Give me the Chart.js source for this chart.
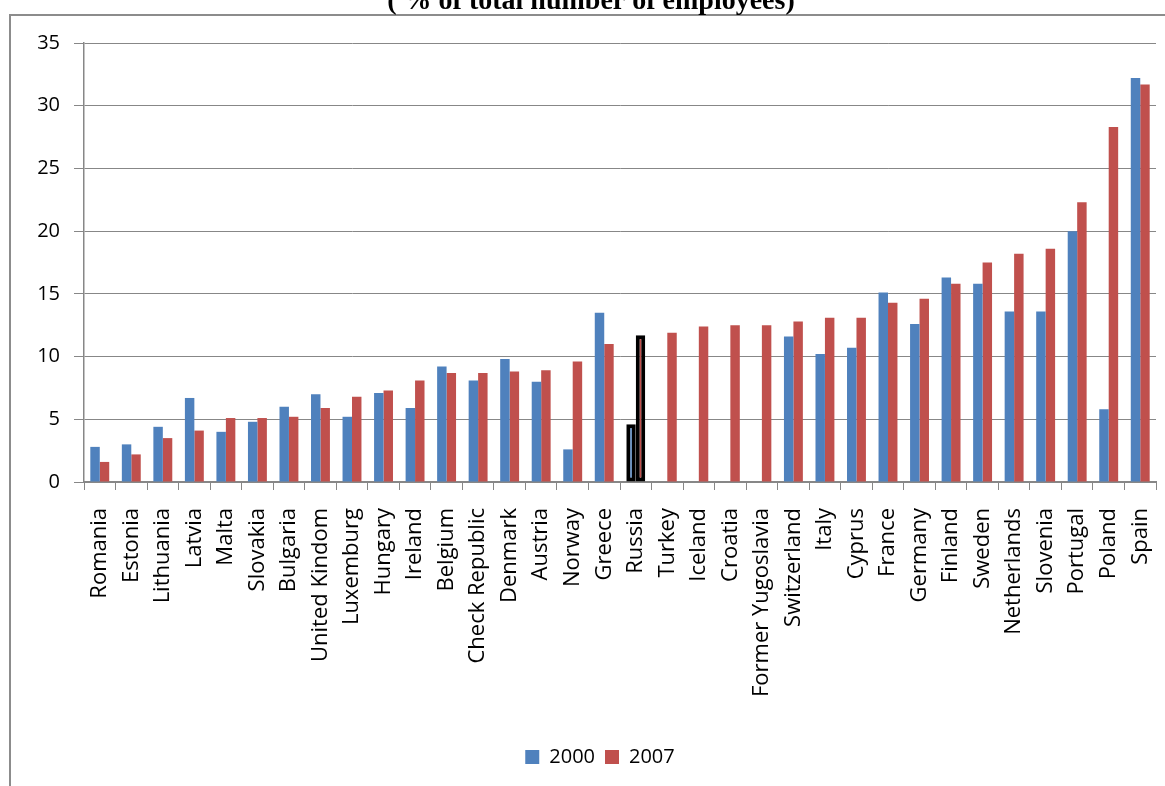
<!DOCTYPE html>
<html>
<head>
<meta charset="utf-8">
<script src="https://cdn.jsdelivr.net/npm/chart.js@4/dist/chart.umd.min.js"></script>
<style>
  html, body { margin: 0; padding: 0; background: #fff; }
  #wrap { width: 1165px; height: 786px; position: relative; }
</style>
</head>
<body>
<div id="wrap"><canvas id="c" width="1165" height="786"></canvas></div>
<script>
// ── Data ────────────────────────────────────────────────────────────────
const countries = [
  'Romania', 'Estonia', 'Lithuania', 'Latvia', 'Malta', 'Slovakia', 'Bulgaria',
  'United Kindom', 'Luxemburg', 'Hungary', 'Ireland', 'Belgium', 'Check Republic',
  'Denmark', 'Austria', 'Norway', 'Greece', 'Russia', 'Turkey', 'Iceland', 'Croatia',
  'Former Yugoslavia', 'Switzerland', 'Italy', 'Cyprus', 'France', 'Germany',
  'Finland', 'Sweden', 'Netherlands', 'Slovenia', 'Portugal', 'Poland', 'Spain'
];
const values2000 = [
  2.8, 3.0, 4.4, 6.7, 4.0, 4.8, 6.0,
  7.0, 5.2, 7.1, 5.9, 9.2, 8.1,
  9.8, 8.0, 2.6, 13.5, 4.6, null, null, null,
  null, 11.6, 10.2, 10.7, 15.1, 12.6,
  16.3, 15.8, 13.6, 13.6, 20.0, 5.8, 32.2
];
const values2007 = [
  1.6, 2.2, 3.5, 4.1, 5.1, 5.1, 5.2,
  5.9, 6.8, 7.3, 8.1, 8.7, 8.7,
  8.8, 8.9, 9.6, 11.0, 11.7, 11.9, 12.4, 12.5,
  12.5, 12.8, 13.1, 13.1, 14.3, 14.6,
  15.8, 17.5, 18.2, 18.6, 22.3, 28.3, 31.7
];
const seriesNames = ['2000', '2007'];
const yTicks = [0, 5, 10, 15, 20, 25, 30, 35];
const titleText = '( % of total number of employees)';
const highlighted = 'Russia';

const BLUE = '#4f81bd';
const RED = '#c0504d';
const GRID = '#878787';
const FONT = '"Open Sans", "DejaVu Sans", sans-serif';

// per-bar outline only on the highlighted country
const outlineColor = countries.map(c => c === highlighted ? '#000' : 'rgba(0,0,0,0)');
const outlineWidth = countries.map(c => c === highlighted ? 4 : 0);

// frame + cut-off title drawn around the chart, legend nudged right
const framePlugin = {
  id: 'frame',
  afterLayout(chart) {
    const lg = chart.legend;
    if (lg) { lg.left += 22; lg.right += 22; }
  },
  beforeDraw(chart) {
    const ctx = chart.ctx;
    ctx.save();
    ctx.fillStyle = '#fff';
    ctx.fillRect(0, 0, chart.width, chart.height);
    ctx.strokeStyle = '#8c8c8c';
    ctx.lineWidth = 2;
    ctx.strokeRect(10, 15, chart.width + 20, chart.height + 20);
    ctx.restore();
  },
  afterDraw(chart) {
    const ctx = chart.ctx;
    ctx.save();
    ctx.font = 'bold 28px "Liberation Serif", "Times New Roman", serif';
    ctx.fillStyle = '#000';
    ctx.textAlign = 'center';
    ctx.textBaseline = 'alphabetic';
    ctx.fillText(titleText, 591, 9);
    ctx.restore();
  }
};

new Chart(document.getElementById('c'), {
  type: 'bar',
  data: {
    labels: countries,
    datasets: [
      {
        label: seriesNames[0],
        data: values2000,
        backgroundColor: BLUE,
        borderColor: outlineColor,
        borderWidth: outlineWidth,
        borderSkipped: false,
        categoryPercentage: 0.6,
        barPercentage: 1.0,
      },
      {
        label: seriesNames[1],
        data: values2007,
        backgroundColor: RED,
        borderColor: outlineColor,
        borderWidth: outlineWidth,
        borderSkipped: false,
        categoryPercentage: 0.6,
        barPercentage: 1.0,
      },
    ],
  },
  options: {
    responsive: false,
    animation: false,
    layout: { padding: { top: 43, right: 9, bottom: 9, left: 0 } },
    plugins: {
      legend: {
        position: 'bottom',
        labels: {
          color: '#000',
          font: { family: FONT, size: 20 },
          boxWidth: 14,
          boxHeight: 14,
          padding: 10,
        },
      },
      tooltip: { enabled: false },
    },
    scales: {
      x: {
        afterFit(scale) {
          scale.height = 255;
          scale.paddingLeft = 0;
          scale.paddingRight = 0;
        },
        grid: { color: GRID, drawOnChartArea: false, tickLength: 8, offset: true },
        border: { color: GRID, width: 2 },
        ticks: {
          color: '#000',
          font: { family: FONT, size: 22 },
          minRotation: 90,
          maxRotation: 90,
          autoSkip: false,
          padding: 18,
        },
      },
      y: {
        min: 0,
        max: 35,
        afterFit(scale) { scale.width = 84; },
        afterBuildTicks(scale) { scale.ticks = yTicks.map(v => ({ value: v })); },
        grid: { color: GRID, tickLength: 10 },
        border: { color: GRID, width: 1.5 },
        ticks: {
          color: '#000',
          font: { family: FONT, size: 20 },
          padding: 14,
        },
      },
    },
  },
  plugins: [framePlugin],
});
</script>
</body>
</html>
